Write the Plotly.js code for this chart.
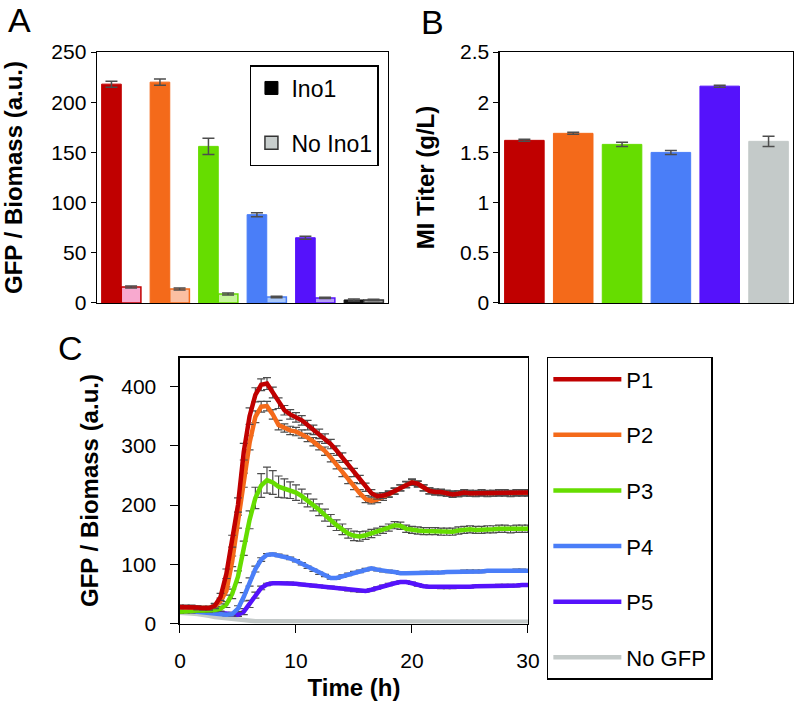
<!DOCTYPE html>
<html>
<head>
<meta charset="utf-8">
<script src="https://cdn.plot.ly/plotly-3.0.1.min.js"></script>
<style>
  body { margin: 0; background: #fff; }
  #plot { width: 796px; height: 702px; }
</style>
</head>
<body>
<div id="plot"></div>
<script>
// panel A: GFP / biomass, with and without Ino1
let promoters = ["P1", "P2", "P3", "P4", "P5", "No GFP"];
let gfpIno1 = [218, 220, 156, 88, 65, 3];
let gfpIno1Err = [3, 3, 8, 2, 1.5, 1];
let gfpNoIno1 = [16, 14, 9, 6, 5, 3];
let gfpNoIno1Err = [1, 1, 1, 0.8, 0.6, 0.6];

// panel B: MI titer
let miTiter = [1.62, 1.69, 1.58, 1.50, 2.16, 1.61];
let miTiterErr = [0.01, 0.01, 0.02, 0.02, 0.01, 0.05];

// colours
let mainColors = ["#c00000", "#f46a1a", "#66dd00", "#4a7ef8", "#5512fb", "#c4cac9"];
let inoColors = ["#c00000", "#f46a1a", "#66dd00", "#4a7ef8", "#5512fb", "#111111"];
let noInoFill = ["#f8a9cf", "#fbbfa2", "#c6f59b", "#a9c8fb", "#b49cf8", "#9a9a9a"];
let noInoLine = ["#c00000", "#f46a1a", "#66dd00", "#4a7ef8", "#5512fb", "#333333"];

// panel C: time course
let time = [0, 0.5, 1, 1.5, 2, 2.5, 3, 3.5, 4, 4.5,
    5, 5.5, 6, 6.5, 7, 7.5, 8, 8.5, 9, 9.5,
    10, 10.5, 11, 11.5, 12, 12.5, 13, 13.5, 14, 14.5,
    15, 15.5, 16, 16.5, 17, 17.5, 18, 18.5, 19, 19.5,
    20, 20.5, 21, 21.5, 22, 22.5, 23, 23.5, 24, 24.5,
    25, 25.5, 26, 26.5, 27, 27.5, 28, 28.5, 29, 29.5, 30];

let p1 = [28, 28, 28, 27, 26, 26, 30, 45, 84, 139,
    200, 290, 350, 386, 403, 405, 390, 372, 360, 353,
    348, 343, 335, 327, 320, 312, 303, 292, 280, 268,
    255, 243, 230, 220, 215, 216, 219, 224, 229, 234,
    238, 236, 229, 224, 222, 222, 220, 218, 219, 221,
    220, 220, 221, 220, 220, 221, 221, 220, 221, 221, 221];
let p1Err = [3, 3, 3, 3, 3, 3, 4, 6, 8, 10,
    12, 14, 14, 12, 10, 10, 9, 9, 8, 8,
    8, 8, 8, 8, 8, 8, 8, 8, 8, 7,
    7, 7, 7, 6, 5, 5, 5, 5, 5, 5,
    5, 5, 5, 5, 5, 5, 5, 5, 5, 5,
    5, 5, 5, 5, 5, 5, 5, 5, 5, 5, 5];

let p2 = [27, 27, 27, 26, 26, 26, 29, 38, 55, 105,
    172, 242, 305, 349, 366, 367, 353, 335, 330, 326,
    324, 320, 314, 307, 300, 291, 280, 268, 255, 242,
    232, 220, 210, 207, 209, 213, 218, 223, 229, 235,
    239, 235, 229, 224, 222, 221, 220, 219, 219, 220,
    220, 219, 220, 219, 220, 220, 220, 219, 220, 220, 220];
let p2Err = [3, 3, 3, 3, 3, 3, 4, 5, 7, 9,
    11, 12, 12, 10, 9, 8, 8, 8, 7, 7,
    7, 7, 7, 7, 7, 7, 7, 7, 7, 6,
    6, 6, 6, 5, 5, 5, 5, 5, 5, 5,
    5, 5, 5, 5, 5, 5, 5, 5, 5, 5,
    5, 5, 5, 5, 5, 5, 5, 5, 5, 5, 5];

let p3 = [20, 21, 21, 22, 22, 22, 23, 25, 32, 50,
    79, 127, 175, 212, 233, 242, 238, 231, 228, 225,
    221, 215, 208, 200, 192, 183, 174, 166, 159, 152,
    148, 147, 149, 152, 155, 158, 162, 166, 165, 160,
    158, 157, 156, 156, 156, 155, 155, 155, 157, 158,
    159, 158, 158, 159, 159, 160, 160, 159, 160, 160, 160];
let p3Err = [3, 3, 3, 3, 3, 3, 3, 4, 5, 8,
    10, 12, 15, 18, 20, 22, 20, 18, 16, 14,
    13, 12, 11, 10, 10, 10, 10, 9, 9, 8,
    8, 8, 7, 7, 6, 6, 6, 6, 6, 6,
    6, 6, 6, 6, 6, 6, 6, 6, 6, 6,
    6, 6, 6, 6, 6, 6, 6, 6, 6, 6, 6];

let p4 = [23, 22, 22, 21, 20, 19, 18, 16, 15, 16,
    25, 45, 70, 92, 108, 116, 117, 115, 113, 110,
    106, 101, 95, 90, 85, 81, 77, 77, 80, 83,
    86, 88, 91, 93, 91, 89, 88, 87, 85, 85,
    85, 85, 86, 86, 86, 86, 87, 87, 87, 88,
    88, 88, 88, 89, 89, 89, 89, 89, 90, 90, 89];
let p4Err = [2, 2, 2, 2, 2, 2, 2, 2, 2, 3,
    5, 7, 7, 5, 3, 2, 2, 2, 2, 2,
    2, 2, 2, 2, 2, 2, 2, 2, 2, 2,
    2, 2, 2, 2, 2, 2, 2, 2, 2, 2,
    2, 2, 2, 2, 2, 2, 2, 2, 2, 2,
    2, 2, 2, 2, 2, 2, 2, 2, 2, 2, 2];

let p5 = [22, 22, 22, 21, 21, 20, 19, 17, 16, 15,
    15, 20, 33, 48, 60, 66, 68, 68, 68, 68,
    67, 66, 65, 64, 63, 62, 61, 60, 59, 57,
    56, 55, 55, 57, 60, 63, 66, 68, 70, 70,
    68, 65, 63, 62, 62, 61, 61, 61, 62, 62,
    62, 63, 63, 63, 63, 64, 64, 64, 64, 65, 65];
let p5Err = [2, 2, 2, 2, 2, 2, 2, 2, 2, 2,
    3, 5, 6, 5, 3, 2, 2, 2, 2, 2,
    2, 2, 2, 2, 2, 2, 2, 2, 2, 2,
    2, 2, 2, 2, 2, 2, 2, 2, 2, 2,
    2, 2, 2, 2, 2, 2, 2, 2, 2, 2,
    2, 2, 2, 2, 2, 2, 2, 2, 2, 2, 2];

let noGfp = [18, 18, 17, 16, 15, 13, 11, 10, 8, 7,
    6, 5, 5, 4, 4, 4, 4, 4, 4, 4,
    4, 4, 4, 4, 4, 3, 3, 3, 3, 3,
    3, 3, 3, 3, 3, 3, 3, 3, 3, 3,
    3, 3, 3, 3, 3, 3, 3, 3, 3, 3,
    3, 3, 3, 3, 3, 3, 3, 3, 3, 3, 3];

let courseNames = ["P1", "P2", "P3", "P4", "P5", "No GFP"];
let courseValues = [p1, p2, p3, p4, p5, noGfp];
let courseErrors = [p1Err, p2Err, p3Err, p4Err, p5Err, null];

let font = "Liberation Sans, Arial, sans-serif";
let errGray = "#4d4d4d";

// panel A traces (legend keys are separate so they can be black / gray)
let ino1Trace = {
    x: promoters, y: gfpIno1, type: "bar", name: "Ino1",
    xaxis: "x", yaxis: "y", showlegend: false,
    marker: { color: inoColors, line: { color: inoColors, width: 1 } },
    error_y: { type: "data", array: gfpIno1Err, color: errGray, thickness: 1.5, width: 6 }
};
let noIno1Trace = {
    x: promoters, y: gfpNoIno1, type: "bar", name: "No Ino1",
    xaxis: "x", yaxis: "y", showlegend: false,
    marker: { color: noInoFill, line: { color: noInoLine, width: 1.5 } },
    error_y: { type: "data", array: gfpNoIno1Err, color: errGray, thickness: 1.5, width: 6 }
};
let ino1Key = {
    x: [null], y: [null], type: "scatter", mode: "markers", name: "Ino1",
    xaxis: "x", yaxis: "y", legend: "legend", legendgroup: "a1",
    marker: { symbol: "square", size: 13, color: "#000000", line: { color: "#000000", width: 1 } }
};
let noIno1Key = {
    x: [null], y: [null], type: "scatter", mode: "markers", name: "No Ino1",
    xaxis: "x", yaxis: "y", legend: "legend", legendgroup: "a2",
    marker: { symbol: "square", size: 13, color: "#c8cecd", line: { color: "#333333", width: 1.5 } }
};

// panel B
let titerTrace = {
    x: promoters, y: miTiter, type: "bar", xaxis: "x2", yaxis: "y2", showlegend: false,
    marker: { color: mainColors, line: { color: mainColors, width: 1 } },
    error_y: { type: "data", array: miTiterErr, color: errGray, thickness: 1.5, width: 6 }
};

// panel C
let courseTraces = courseNames.map((name, i) => {
    let tr = {
        x: time, y: courseValues[i], type: "scatter", mode: "lines", name: name,
        xaxis: "x3", yaxis: "y3", legend: "legend2", legendgroup: "c" + i, legendrank: i + 1,
        line: { color: mainColors[i], width: 4.5 }
    };
    if (courseErrors[i]) {
        tr.error_y = { type: "data", array: courseErrors[i], color: errGray, thickness: 1.2, width: 4 };
    }
    return tr;
});
// draw No GFP first so it sits underneath
let data = [ino1Trace, noIno1Trace, ino1Key, noIno1Key, titerTrace]
    .concat(courseTraces.slice().reverse());

let tickFont = { family: font, size: 21, color: "#000" };
let titleFont = { family: font, size: 24, color: "#000", weight: "bold" };

let boxAxis = {
    showline: true, mirror: true, linecolor: "#000", linewidth: 1.5,
    showgrid: false, zeroline: false, tickfont: tickFont
};

let layout = {
    width: 796, height: 702,
    margin: { l: 0, r: 0, t: 0, b: 0 },
    paper_bgcolor: "#fff", plot_bgcolor: "#fff",
    font: { family: font, color: "#000" },
    barmode: "group", bargap: 0.19, bargroupgap: 0,
    xaxis: Object.assign({}, boxAxis, {
        domain: [0.1219, 0.4874], anchor: "y", showticklabels: false, ticks: ""
    }),
    yaxis: Object.assign({}, boxAxis, {
        domain: [0.5684, 0.9259], anchor: "x", range: [0, 250], dtick: 50,
        ticks: "outside", ticklen: 5, tickcolor: "#000",
        title: { text: "GFP / Biomass (a.u.)", font: titleFont, standoff: 22 }
    }),
    xaxis2: Object.assign({}, boxAxis, {
        domain: [0.6281, 0.9962], anchor: "y2", showticklabels: false, ticks: ""
    }),
    yaxis2: Object.assign({}, boxAxis, {
        domain: [0.5684, 0.9259], anchor: "x2", range: [0, 2.5], dtick: 0.5,
        ticks: "outside", ticklen: 5, tickcolor: "#000",
        title: { text: "MI Titer (g/L)", font: titleFont, standoff: 18 }
    }),
    xaxis3: Object.assign({}, boxAxis, {
        domain: [0.2261, 0.6633], anchor: "y3", range: [0, 30], dtick: 10,
        ticks: "outside", ticklen: 8, tickcolor: "#000", ticklabelstandoff: 10,
        title: { text: "Time (h)", font: titleFont, standoff: 8 }
    }),
    yaxis3: Object.assign({}, boxAxis, {
        domain: [0.1118, 0.4907], anchor: "x3", range: [0, 449], dtick: 100,
        ticks: "outside", ticklen: 8, tickcolor: "#000", ticklabelstandoff: 10,
        title: { text: "GFP / Biomass (a.u.)", font: titleFont, standoff: 16 }
    }),
    legend: {
        x: 0.314, y: 0.9074, xanchor: "left", yanchor: "top",
        bordercolor: "#000", borderwidth: 1.5, bgcolor: "#fff",
        font: { family: font, size: 23, color: "#000" },
        traceorder: "grouped", tracegroupgap: 22, itemwidth: 30
    },
    legend2: {
        x: 0.687, y: 0.4915, xanchor: "left", yanchor: "top",
        bordercolor: "#000", borderwidth: 1.5, bgcolor: "#fff",
        font: { family: font, size: 22, color: "#000" },
        traceorder: "grouped", tracegroupgap: 24, itemwidth: 68
    },
    annotations: [
        { text: "A", x: 19, y: 20 },
        { text: "B", x: 432, y: 22 },
        { text: "C", x: 70, y: 348 }
    ].map(a => ({
        text: a.text, x: a.x / 796, y: 1 - a.y / 702, xref: "paper", yref: "paper",
        xanchor: "center", yanchor: "middle", showarrow: false,
        font: { family: font, size: 34, color: "#000" }
    }))
};

Plotly.newPlot("plot", data, layout, { staticPlot: true });
</script>
</body>
</html>
